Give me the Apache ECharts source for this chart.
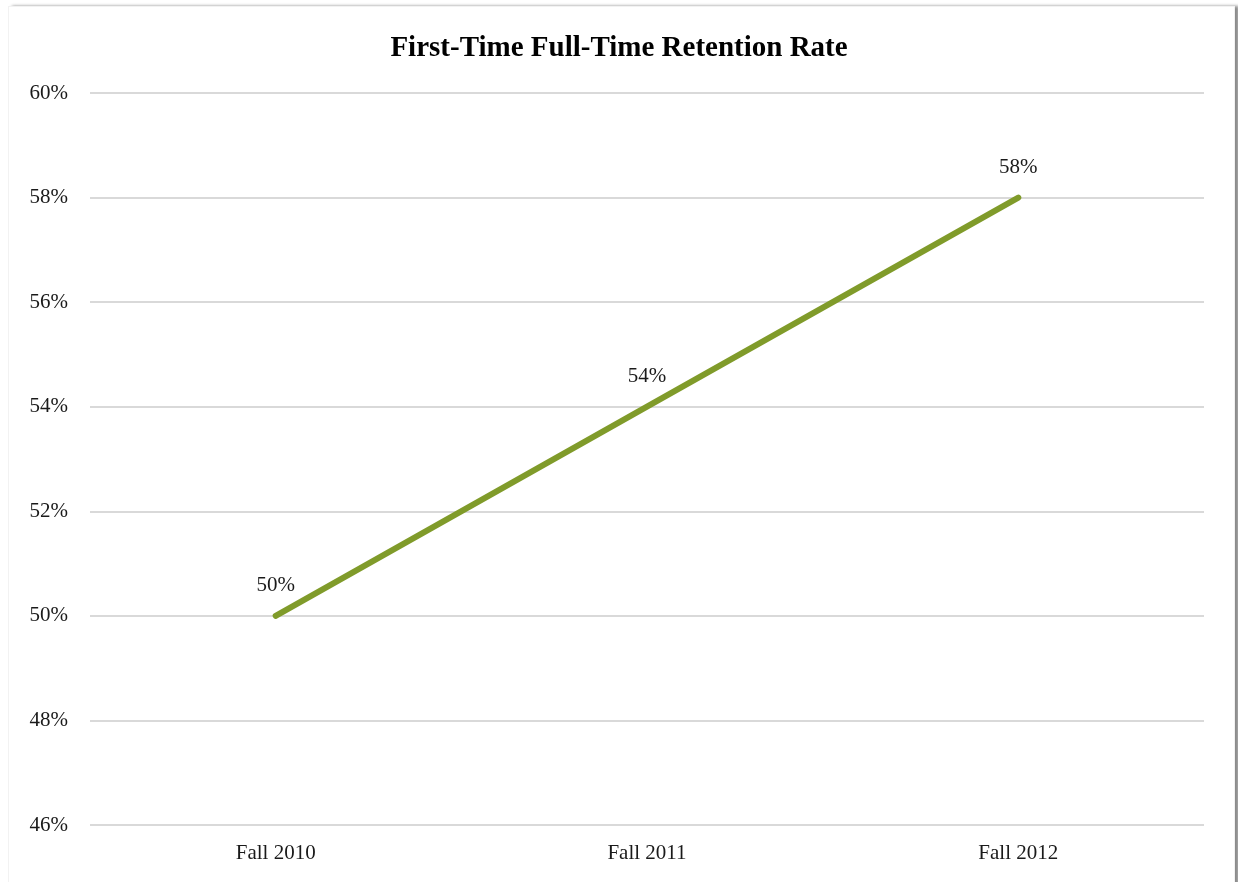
<!DOCTYPE html>
<html>
<head>
<meta charset="utf-8">
<script src="https://cdn.jsdelivr.net/npm/echarts@6/dist/echarts.min.js"></script>
<style>
  html, body { margin: 0; padding: 0; background: #ffffff; overflow: hidden; }
  #card {
    position: absolute; left: 8px; top: 6px; width: 1225px; height: 900px;
    background: #ffffff; border: 1px solid #f2f2f2;
    box-shadow: 4px 0 3px rgba(0,0,0,0.45);
  }
  #chart { position: absolute; left: 0; top: 0; width: 1238px; height: 882px; }
</style>
</head>
<body>
<div id="card"></div>
<div id="chart"></div>
<script>
const categories = ['Fall 2010', 'Fall 2011', 'Fall 2012'];
const retentionRate = [50, 54, 58];
const yMin = 46, yMax = 60, yStep = 2;

const chart = echarts.init(document.getElementById('chart'), null, { renderer: 'canvas' });
const serif = '"Liberation Serif", "DejaVu Serif", serif';

chart.setOption({
  backgroundColor: 'transparent',
  animation: false,
  title: {
    text: 'First-Time Full-Time Retention Rate',
    left: 'center',
    top: 29,
    textStyle: { fontFamily: serif, fontSize: 29, fontWeight: 'bold', color: '#000000' }
  },
  grid: { left: 90, right: 34, top: 93, bottom: 57, containLabel: false },
  xAxis: {
    type: 'category',
    data: categories,
    boundaryGap: true,
    axisLine: { show: false },
    axisTick: { show: false },
    axisLabel: { fontFamily: serif, fontSize: 21, color: '#1a1a1a', margin: 18 }
  },
  yAxis: {
    type: 'value',
    min: yMin, max: yMax, interval: yStep,
    axisLine: { show: false },
    axisTick: { show: false },
    splitLine: { lineStyle: { color: '#d9d9d9', width: 2 } },
    axisLabel: {
      fontFamily: serif, fontSize: 21, color: '#1a1a1a', margin: 22,
      formatter: v => v + '%'
    }
  },
  series: [{
    type: 'line',
    data: retentionRate,
    symbol: 'circle',
    symbolSize: 1,
    showSymbol: true,
    itemStyle: { color: 'rgba(127,154,42,0)' },
    lineStyle: { color: '#809b2a', width: 6, cap: 'round' },
    label: {
      show: true,
      position: 'top',
      distance: 19,
      fontFamily: serif, fontSize: 21, color: '#1a1a1a',
      formatter: p => p.value + '%'
    }
  }]
});
</script>
</body>
</html>
